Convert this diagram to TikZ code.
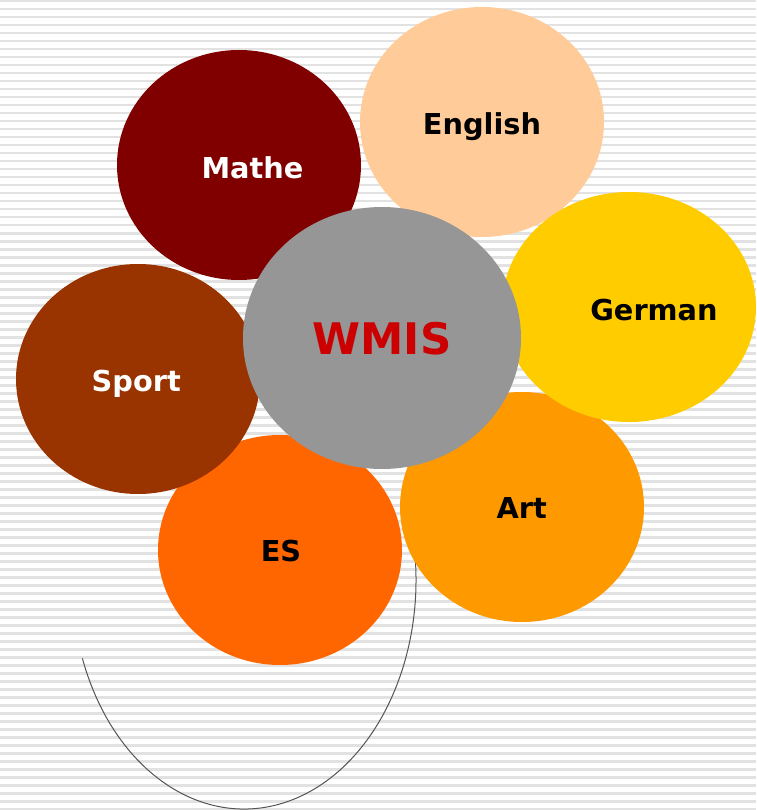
\documentclass[tikz,border=0pt]{standalone}
\usepackage{fontspec}
\setmainfont{DejaVu Sans}
\usetikzlibrary{shapes.geometric}
\definecolor{cMathe}{HTML}{800000}
\definecolor{cEnglish}{HTML}{FFCC99}
\definecolor{cGerman}{HTML}{FFCC00}
\definecolor{cSport}{HTML}{993300}
\definecolor{cES}{HTML}{FF6600}
\definecolor{cArt}{HTML}{FF9900}
\definecolor{cWMIS}{HTML}{969696}
\definecolor{cRed}{HTML}{CC0000}
\definecolor{cStripe}{HTML}{E2E2E2}
\definecolor{cArc}{HTML}{555555}
\tikzset{
  blob/.style={ellipse, draw=none, inner sep=0pt, minimum width=244pt, minimum height=230pt},
  lbl/.style={anchor=base, inner sep=0pt, font=\bfseries\fontsize{28.8}{34}\selectfont},
  bigl/.style={anchor=base, inner sep=0pt, font=\bfseries\fontsize{43.5}{50}\selectfont, text=cRed},
}
\begin{document}
\begin{tikzpicture}[x=1pt,y=-1pt]
\useasboundingbox (0,0) rectangle (756,810);
\fill[white] (0,0) rectangle (756,810);
\foreach \yy in {0,8,...,808} \fill[cStripe] (0,\yy) rectangle (756,\yy+2.5);
% arc
\coordinate (arcstart) at ({244+172*cos(160)},{580+229*sin(160)});
\draw[cArc, line width=1pt] (arcstart) arc[start angle=160, end angle=-10, x radius=172, y radius=229];
% ellipses
\node[blob, fill=cEnglish] (english) at (482,122) {};
\node[blob, fill=cMathe] (mathe) at (239,165) {};
\node[blob, fill=cArt] (art) at (522,507) {};
\node[blob, fill=cGerman, minimum width=254pt] (german) at (629,307) {};
\node[blob, fill=cES] (es) at (280,550) {};
\node[blob, fill=cSport] (sport) at (138,379) {};
\node[blob, fill=cWMIS, minimum width=278pt, minimum height=262pt] (wmis) at (382,338) {};
% labels
\node[lbl, text=black] (tEnglish) at (482,134.3) {English};
\node[lbl, text=white] (tMathe) at (252.5,178.3) {Mathe};
\node[lbl, text=black] (tGerman) at (654,320.5) {German};
\node[lbl, text=white] (tSport) at (136.3,391.7) {Sport};
\node[lbl, text=black] (tArt) at (521.7,518.3) {Art};
\node[lbl, text=black] (tES) at (281,561.5) {ES};
\node[bigl] (tWMIS) at (382,354.3) {WMIS};
\end{tikzpicture}
\end{document}
